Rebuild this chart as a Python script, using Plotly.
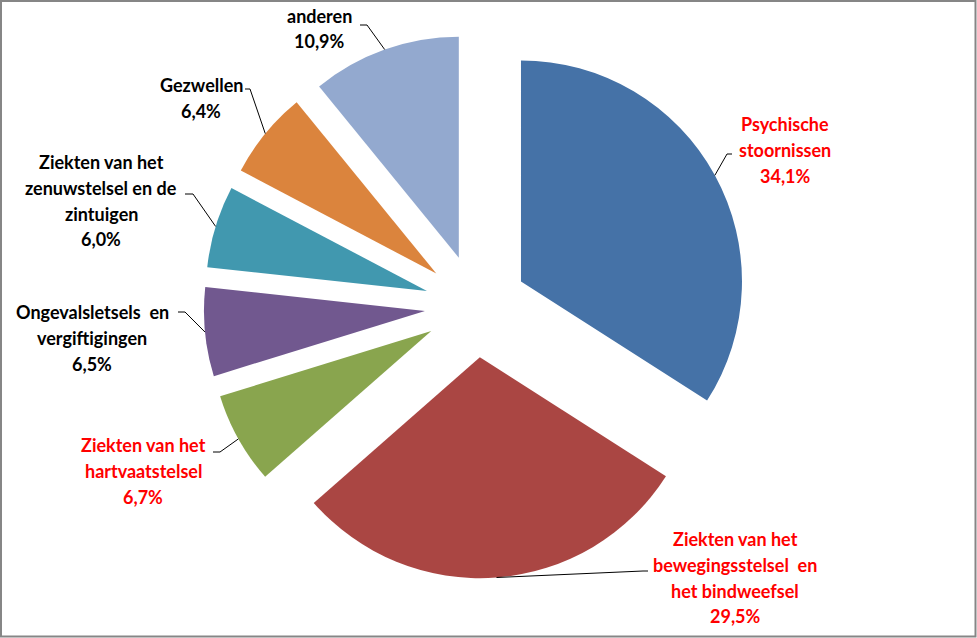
import math
import plotly.graph_objects as go

# ---- data ----
categories = [
    "Psychische stoornissen",
    "Ziekten van het bewegingsstelsel en het bindweefsel",
    "Ziekten van het hartvaatstelsel",
    "Ongevalsletsels en vergiftigingen",
    "Ziekten van het zenuwstelsel en de zintuigen",
    "Gezwellen",
    "anderen",
]
values = [34.1, 29.5, 6.7, 6.5, 6.0, 6.4, 10.9]
label_lines = [
    ["Psychische", "stoornissen"],
    ["Ziekten van het", "bewegingsstelsel  en", "het bindweefsel"],
    ["Ziekten van het", "hartvaatstelsel"],
    ["Ongevalsletsels  en", "vergiftigingen"],
    ["Ziekten van het", "zenuwstelsel en de", "zintuigen"],
    ["Gezwellen"],
    ["anderen"],
]
colors = ["#4572A7", "#AA4643", "#89A54E", "#71588F", "#4198AF", "#DB843D", "#93A9CF"]
label_colors = ["#FF0000", "#FF0000", "#FF0000", "#000000", "#000000", "#000000", "#000000"]

# ---- layout (pixels) ----
W, H = 977, 638
CX, CY = 476, 306
R = 221
PULL = 0.232
half = R * (1 + PULL)

def px(x):
    return x / W

def py(y):
    return 1 - y / H

# label placement: center x, first line y, leader (text-side x, elbow x, y)
label_pos = [
    (785, 124, (732, 727, 154)),
    (735, 539, (648, 643, 571)),
    (143, 445, (213, 220, 452)),
    (92, 312, (178, 185, 312)),
    (101, 162, (185, 193, 194)),
    (201, 85, (245, 250, 89)),
    (319, 15.5, (360, 367, 25)),
]
LINE_H = 25.8
FONT = dict(family="Lato, 'Open Sans', sans-serif", size=18, weight="bold")

fig = go.Figure(go.Pie(
    labels=categories,
    values=values,
    sort=False,
    direction="clockwise",
    rotation=0,
    pull=PULL,
    marker=dict(colors=colors, line=dict(width=0)),
    textinfo="none",
    hoverinfo="label+percent",
    showlegend=False,
    domain=dict(x=[px(CX - half), px(CX + half)], y=[py(CY + half), py(CY - half)]),
))

annotations = []
shapes = []
total = sum(values)
cum = 0.0
for i, v in enumerate(values):
    mid = (cum + v / 2) / total * 2 * math.pi
    cum += v
    dx, dy = math.sin(mid), -math.cos(mid)
    ax = CX + half * dx
    ay = CY + half * dy
    cx, y0, (tx, ex, ly) = label_pos[i]
    lines = label_lines[i] + [f"{v:.1f}%".replace(".", ",")]
    for k, t in enumerate(lines):
        annotations.append(dict(
            x=px(cx), y=py(y0 + k * LINE_H), xref="paper", yref="paper",
            text=t, showarrow=False, xanchor="center", yanchor="middle",
            font=dict(color=label_colors[i], **FONT),
        ))
    shapes.append(dict(
        type="path", xref="paper", yref="paper",
        path=f"M {px(tx)} {py(ly)} L {px(ex)} {py(ly)} L {px(ax)} {py(ay)}",
        line=dict(color="#000000", width=1),
    ))

shapes.append(dict(type="rect", xref="paper", yref="paper",
                   x0=px(1), x1=px(975.5), y0=py(636.5), y1=py(1),
                   line=dict(color="#868686", width=2)))

fig.update_layout(
    width=W, height=H,
    margin=dict(l=0, r=0, t=0, b=0),
    paper_bgcolor="#FFFFFF",
    plot_bgcolor="#FFFFFF",
    annotations=annotations,
    shapes=shapes,
)

fig.write_html("out.html")
